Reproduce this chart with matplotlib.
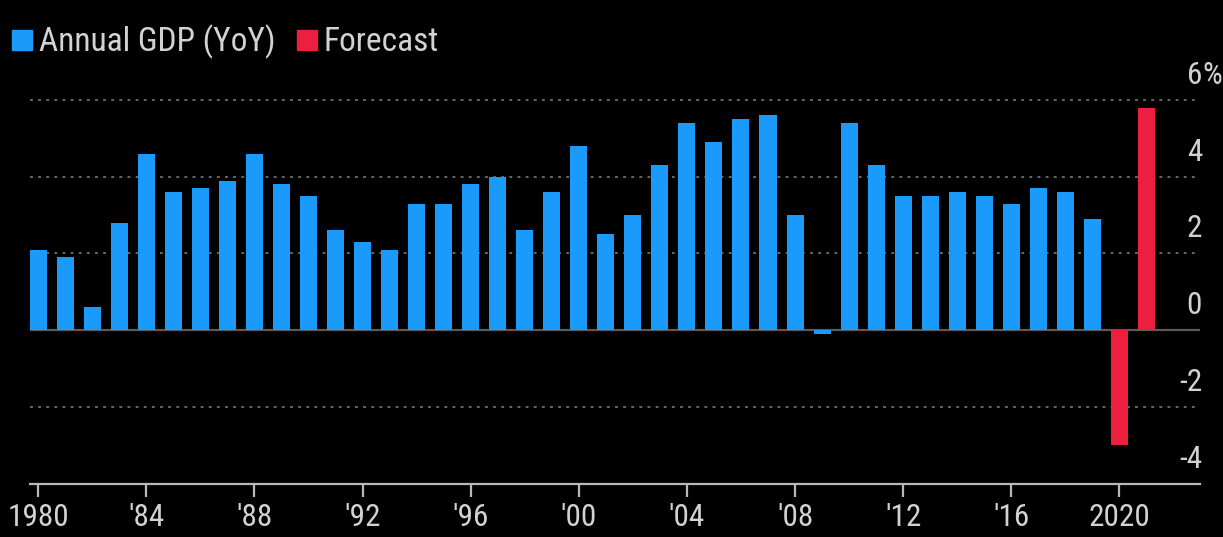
import matplotlib
matplotlib.use("Agg")
import matplotlib.pyplot as plt
import matplotlib.transforms as mtransforms
from matplotlib import font_manager as fm
from matplotlib.patches import Rectangle

# world GDP growth, % YoY (IMF), last two years are the forecast
years = list(range(1980, 2022))
gdp = [2.1, 1.9, 0.6, 2.8, 4.6, 3.6, 3.7, 3.9, 4.6, 3.8,
       3.5, 2.6, 2.3, 2.1, 3.3, 3.3, 3.8, 4.0, 2.6, 3.6,
       4.8, 2.5, 3.0, 4.3, 5.4, 4.9, 5.5, 5.6, 3.0, -0.1,
       5.4, 4.3, 3.5, 3.5, 3.6, 3.5, 3.3, 3.7, 3.6, 2.9,
       -3.0, 5.8]
forecast_from = 2020

xticks = [1980, 1984, 1988, 1992, 1996, 2000, 2004, 2008, 2012, 2016, 2020]
xticklabels = ["1980", "'84", "'88", "'92", "'96", "'00", "'04", "'08", "'12", "'16", "2020"]
yticks = [-4, -2, 0, 2, 4, 6]
yticklabels = ["-4", "-2", "0", "2", "4", "6"]

blue = "#1a9bfc"
red = "#ec1f3e"
txt = "#d2d2d2"


def narrow_font():
    # look for any installed condensed / narrow sans, regular weight
    fonts = fm.fontManager.ttflist
    for want in ["Liberation Sans Narrow", "Roboto Condensed", "Open Sans Condensed",
                 "Noto Sans Condensed", "DejaVu Sans Condensed"]:
        for f in fonts:
            if f.name == want and f.style == "normal" and f.weight in (400, "normal", "regular"):
                return f.fname
    for f in fonts:
        low = f.fname.lower()
        if ("condensed" in low or "narrow" in low) and f.style == "normal" \
                and f.weight in (400, "normal", "regular") and "semi" not in low \
                and "extra" not in low and "ultra" not in low and "mono" not in low \
                and "serif" not in f.name.lower():
            return f.fname
    return None


path = narrow_font()
if path:
    fp = fm.FontProperties(fname=path)
    big, small = 24, 22.5
else:
    fp = fm.FontProperties(family="DejaVu Sans")
    big, small = 19.5, 18.5

fig = plt.figure(figsize=(12.23, 5.37), dpi=100, facecolor="black")
ax = fig.add_axes([30 / 1223, 1 - 483.5 / 537, 1170 / 1223, 406.5 / 537])
ax.set_facecolor("black")

colors = [red if y >= forecast_from else blue for y in years]
ax.bar(years, gdp, width=0.63, color=colors, zorder=3)

ax.set_xlim(1979.70, 2022.98)
ax.set_ylim(-4, 6.6)

# dotted grid, solid zero line
for v in yticks:
    if v == 0:
        ax.axhline(0, color="#5a5a5a", lw=1.6, zorder=2)
    elif v > -4:
        ax.axhline(v, color="#6e6e6e", lw=1.3, dashes=(1.6, 2.9), zorder=1)

for s in ["top", "left", "right"]:
    ax.spines[s].set_visible(False)
ax.spines["bottom"].set_color("#b8b8b8")
ax.spines["bottom"].set_linewidth(1.6)

ax.set_xticks(xticks)
ax.set_xticklabels(xticklabels)
ax.tick_params(axis="x", colors="#b8b8b8", length=9, width=1.6, pad=5, labelcolor=txt)
for lab in ax.get_xticklabels():
    lab.set_fontproperties(fp)
    lab.set_fontsize(small)
ax.set_yticks([])

# right-side labels sit above their gridlines
trans = mtransforms.blended_transform_factory(ax.transAxes, ax.transData)
trans = mtransforms.offset_copy(trans, fig=fig, x=1.5, y=11.5, units="points")
for v, lab in zip(yticks, yticklabels):
    ax.text(1.0, v, lab, transform=trans, ha="right", va="baseline",
            fontproperties=fp, fontsize=small, color=txt, clip_on=False)
    if v == yticks[-1]:
        ax.text(1.0, v, "%", transform=trans, ha="left", va="baseline",
                fontproperties=fp, fontsize=small, color=txt, clip_on=False)

# legend
W, H = 1223, 537
fig.patches.append(Rectangle((12 / W, 1 - 50 / H), 20 / W, 20 / H,
                             transform=fig.transFigure, color=blue))
fig.text(39 / W, 1 - 51 / H, "Annual GDP (YoY)", fontproperties=fp, fontsize=big,
         color=txt, va="baseline")
fig.patches.append(Rectangle((297 / W, 1 - 50 / H), 20 / W, 20 / H,
                             transform=fig.transFigure, color=red))
fig.text(324 / W, 1 - 51 / H, "Forecast", fontproperties=fp, fontsize=big,
         color=txt, va="baseline")

fig.savefig("out.png", dpi=100, facecolor="black")
